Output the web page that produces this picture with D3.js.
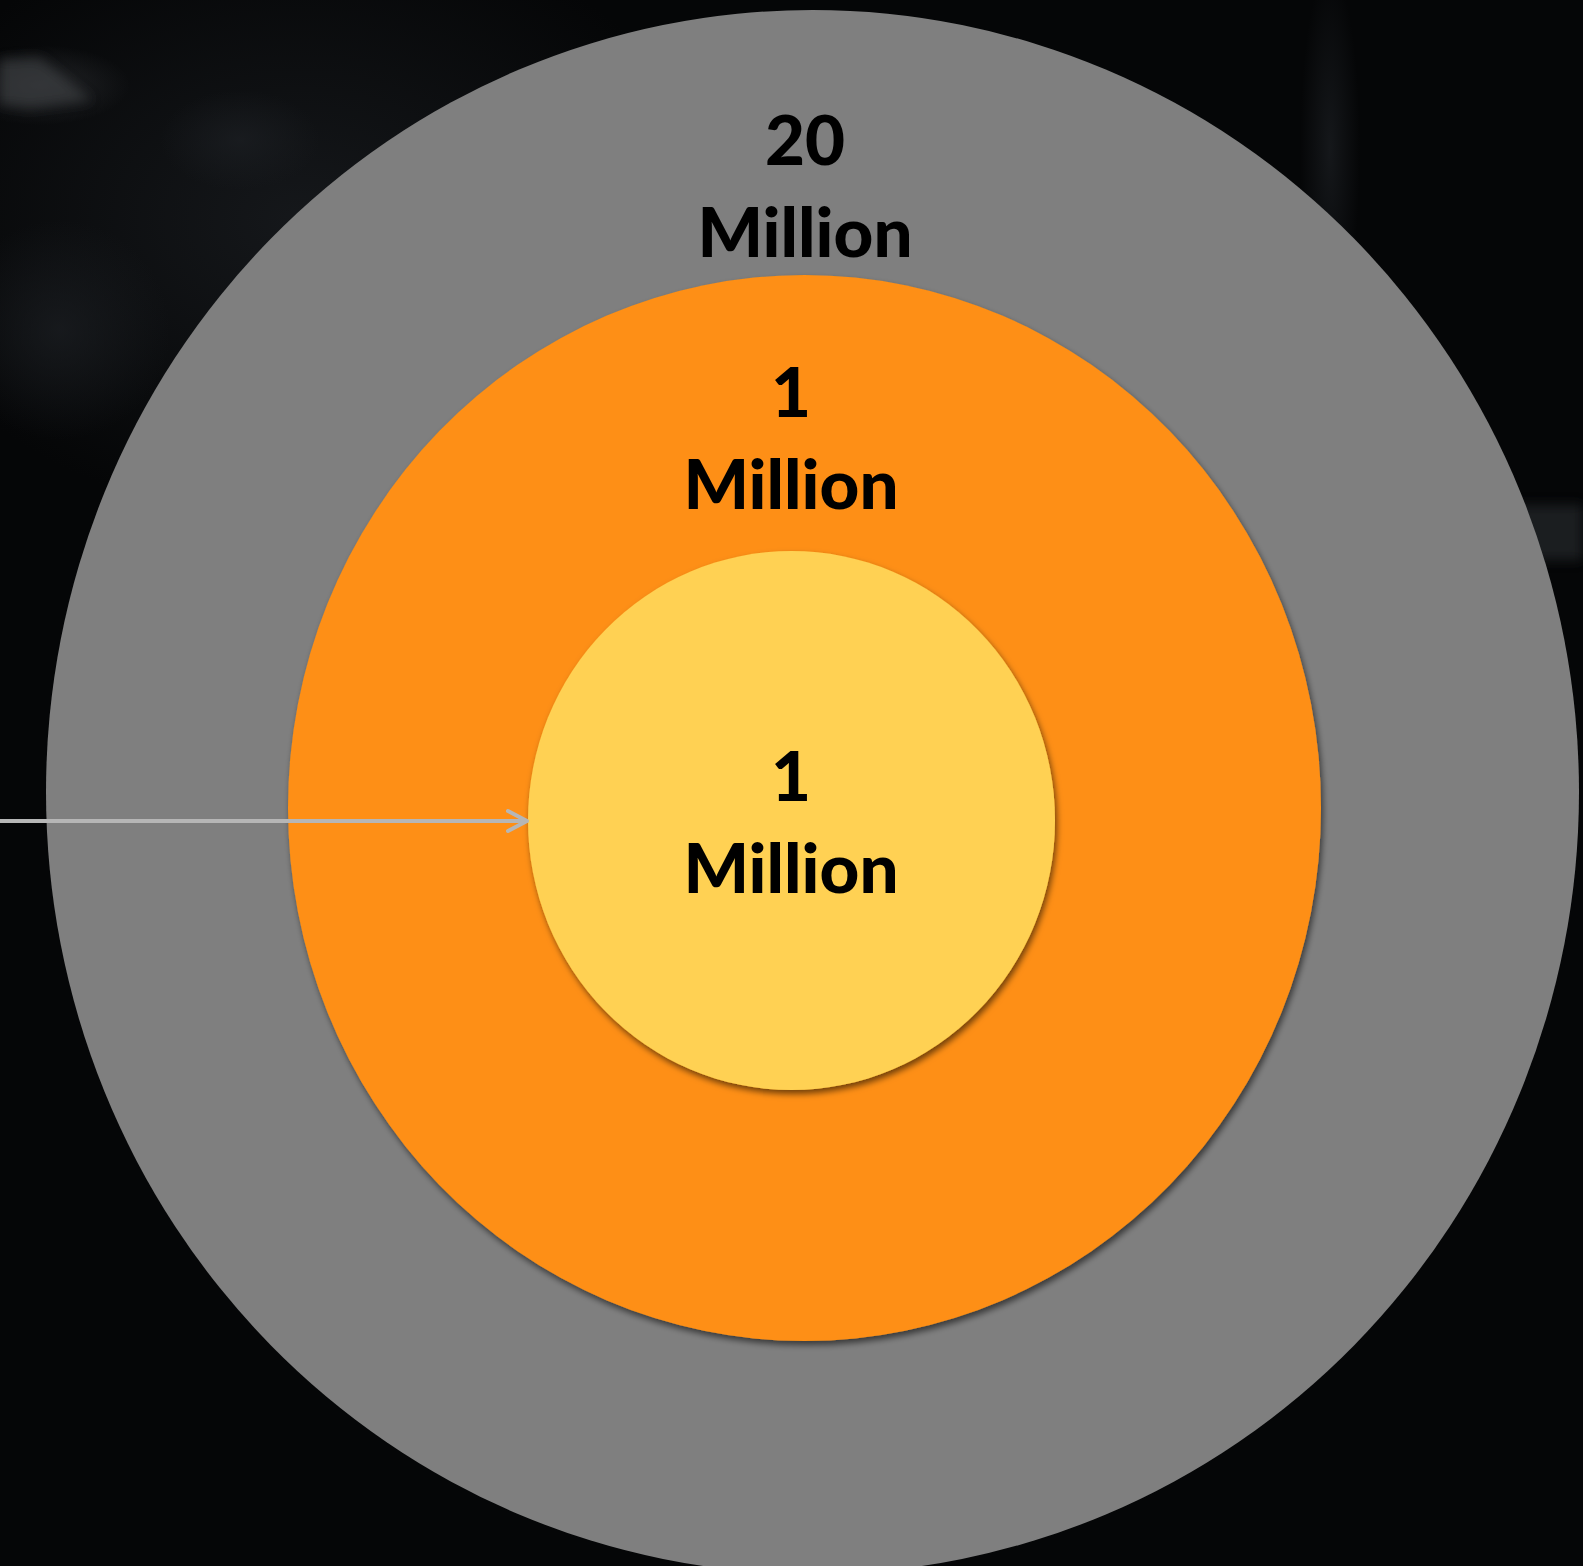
<!DOCTYPE html>
<html>
<head>
<meta charset="utf-8">
<script src="https://cdn.jsdelivr.net/npm/d3@7"></script>
<style>
  html, body { margin: 0; padding: 0; background: #050607; overflow: hidden; }
  svg { display: block; }
</style>
</head>
<body>
<svg id="chart" width="1583" height="1566"></svg>
<script>
// ---- data ----
const rings = ["outer", "middle", "inner"];
const ringValues = ["20", "1", "1"];
const ringUnits = ["Million", "Million", "Million"];
const ringColors = ["#7f7f7f", "#fe8f13", "#ffd152"];

// ---- layout ----
const W = 1583, H = 1566;
const geom = {
  outer:  { cx: 812.5, cy: 792,   rx: 766.5, ry: 782,   labelY: 165 },
  middle: { cx: 804.5, cy: 808,   rx: 516.5, ry: 533,   labelY: 417 },
  inner:  { cx: 791.5, cy: 820.5, rx: 263.5, ry: 269.5, labelY: 801 }
};
const labelX = { outer: 805, middle: 791, inner: 791 };
const lineGap = 92;

const color = d3.scaleOrdinal().domain(rings).range(ringColors);

const svg = d3.select("#chart");
const defs = svg.append("defs");

// background texture (dark photo impression)
const bgG = defs.append("radialGradient").attr("id", "glow1");
bgG.append("stop").attr("offset", "0%").attr("stop-color", "#3a3c40").attr("stop-opacity", 0.55);
bgG.append("stop").attr("offset", "100%").attr("stop-color", "#3a3c40").attr("stop-opacity", 0);
const bgG2 = defs.append("radialGradient").attr("id", "glow2");
bgG2.append("stop").attr("offset", "0%").attr("stop-color", "#1c1f23").attr("stop-opacity", 0.7);
bgG2.append("stop").attr("offset", "100%").attr("stop-color", "#1c1f23").attr("stop-opacity", 0);

const blur = defs.append("filter").attr("id", "blur").attr("x", "-50%").attr("y", "-50%").attr("width", "200%").attr("height", "200%");
blur.append("feGaussianBlur").attr("stdDeviation", 6);

const shadow = defs.append("filter").attr("id", "shadow").attr("x", "-10%").attr("y", "-10%").attr("width", "120%").attr("height", "120%");
shadow.append("feDropShadow").attr("dx", 2).attr("dy", 4).attr("stdDeviation", 3)
  .attr("flood-color", "#000").attr("flood-opacity", 0.55);

svg.append("rect").attr("width", W).attr("height", H).attr("fill", "#050607");
const bg = svg.append("g");
bg.append("ellipse").attr("cx", 300).attr("cy", 220).attr("rx", 420).attr("ry", 300).attr("fill", "url(#glow2)");
bg.append("ellipse").attr("cx", 40).attr("cy", 85).attr("rx", 90).attr("ry", 40).attr("fill", "url(#glow1)");
bg.append("path").attr("d", "M0,60 L40,58 L92,100 L30,108 L0,104 Z").attr("fill", "#3b3c40").attr("opacity", 0.7).attr("filter", "url(#blur)");
bg.append("ellipse").attr("cx", 60).attr("cy", 330).attr("rx", 110).attr("ry", 110).attr("fill", "url(#glow2)");
bg.append("ellipse").attr("cx", 240).attr("cy", 140).attr("rx", 80).attr("ry", 50).attr("fill", "url(#glow2)");
bg.append("ellipse").attr("cx", 1330).attr("cy", 150).attr("rx", 30).attr("ry", 180).attr("fill", "url(#glow2)");
bg.append("rect").attr("x", 1500).attr("y", 505).attr("width", 83).attr("height", 55)
  .attr("fill", "#2a2e30").attr("opacity", 0.6).attr("filter", "url(#blur)");

// rings
svg.append("g").selectAll("ellipse")
  .data(rings)
  .join("ellipse")
  .attr("cx", d => geom[d].cx)
  .attr("cy", d => geom[d].cy)
  .attr("rx", d => geom[d].rx)
  .attr("ry", d => geom[d].ry)
  .attr("fill", d => color(d))
  .attr("filter", (d, i) => i > 0 ? "url(#shadow)" : null);

// arrow
const arrowY = 821, arrowTip = 527;
const arrow = svg.append("g").attr("stroke", "#b6b6b6").attr("stroke-width", 4).attr("fill", "none")
  .attr("stroke-linecap", "round").attr("stroke-linejoin", "round");
arrow.append("line").attr("x1", -5).attr("y1", arrowY).attr("x2", arrowTip - 1).attr("y2", arrowY);
arrow.append("path").attr("d", `M${arrowTip - 19},${arrowY - 10} L${arrowTip},${arrowY} L${arrowTip - 19},${arrowY + 10}`);

// labels
const labels = svg.append("g")
  .attr("font-family", "Lato, 'Open Sans', sans-serif")
  .attr("font-weight", 900)
  .attr("font-size", 69)
  .attr("fill", "#000")
  .attr("text-anchor", "middle");

rings.forEach((r, i) => {
  const t = labels.append("text").attr("x", labelX[r]).attr("y", geom[r].labelY);
  t.append("tspan").attr("x", labelX[r]).attr("y", geom[r].labelY).text(ringValues[i]);
  t.append("tspan").attr("x", labelX[r]).attr("y", geom[r].labelY + lineGap).text(ringUnits[i]);
});
</script>
</body>
</html>
